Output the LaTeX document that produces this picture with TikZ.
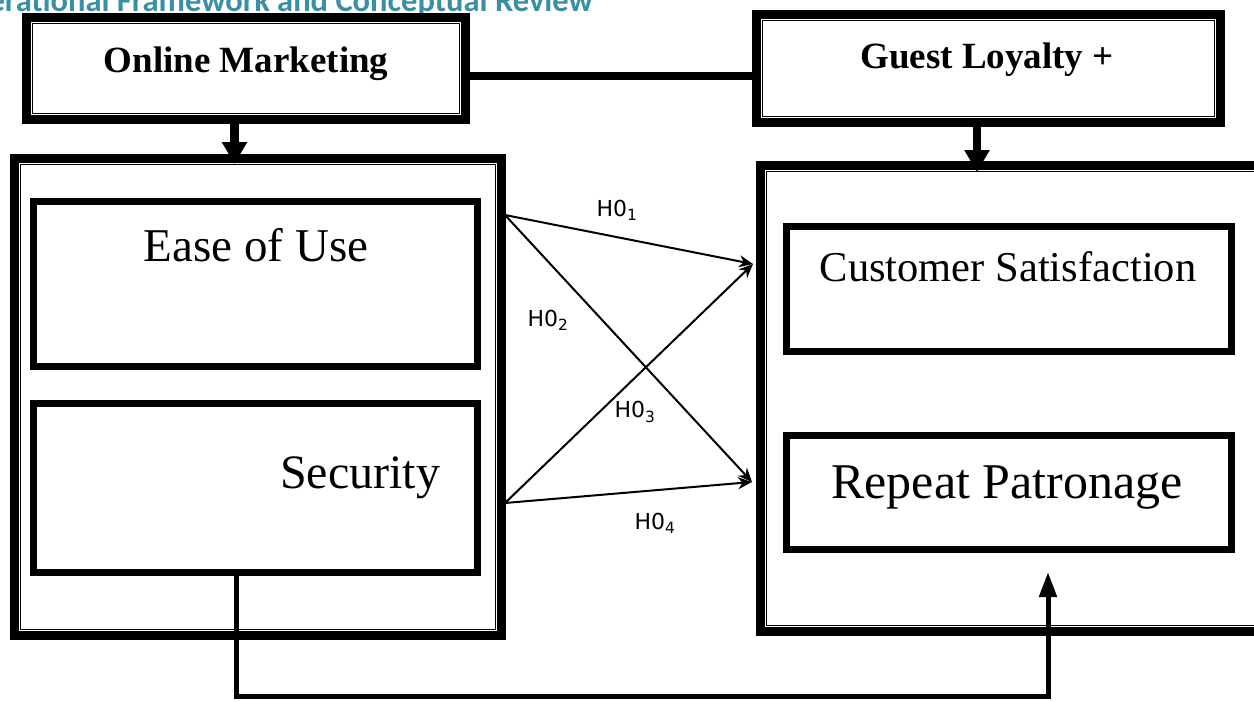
\documentclass[tikz,border=0pt]{standalone}
\usepackage{fontspec}
\setmainfont{Liberation Serif}
\newfontfamily\labfont{DejaVu Sans}
\newfontfamily\titlefont{Carlito}
\usetikzlibrary{arrows.meta}
\definecolor{titleteal}{RGB}{58,143,165}
\newcommand\innerlines[1]{%
  \draw[line width=1.6pt] ([shift={(8,8)}]#1.north west) rectangle ([shift={(-8,-8)}]#1.south east);
  \draw[line width=1pt] ([shift={(10.6,10.6)}]#1.north west) rectangle ([shift={(-10.6,-10.6)}]#1.south east);}
\tikzset{
  tribox/.style={draw, line width=7pt, inner sep=0pt},
  subbox/.style={draw, line width=7pt, inner sep=0pt},
  bigtxt/.style={anchor=base, inner sep=0pt},
  hyp/.style={font=\labfont\fontsize{22}{24}\selectfont, inner sep=0pt},
  hline/.style={line width=2pt, -{Stealth[length=14pt,width=12pt]}},
  fatarrow/.style={line width=8.5pt, -{Triangle[length=22pt,width=24pt]}},
}
\begin{document}
\begin{tikzpicture}[x=1pt,y=-1pt]
\useasboundingbox (0,0) rectangle (1254,702);
\clip (0,0) rectangle (1254,702);
\fill[white] (0,0) rectangle (1254,702);

% title (cut off at the page edge, as in the reference)
\node[anchor=base east, inner sep=0pt, text=titleteal,
      font=\titlefont\bfseries\fontsize{32.5}{33}\selectfont] (title) at (593,11)
      {Operational Framework and Conceptual Review};

% header boxes
\node[tribox, minimum width=441pt, minimum height=104pt] (om) at (246,68.5) {};
\innerlines{om}
\node[bigtxt, font=\bfseries\fontsize{37}{40}\selectfont] (omt) at (246,72) {Online Marketing};

\node[tribox, minimum width=466pt, minimum height=110pt] (gl) at (988.5,68.5) {};
\innerlines{gl}
\node[bigtxt, font=\bfseries\fontsize{37}{40}\selectfont] (glt) at (987,68) {Guest Loyalty +};

% big boxes
\node[tribox, minimum width=489pt, minimum height=479pt] (lb) at (258,397) {};
\innerlines{lb}
\node[tribox, minimum width=512pt, minimum height=468pt] (rb) at (1015.5,398.5) {};
\innerlines{rb}

% sub boxes
\node[subbox, minimum width=444pt, minimum height=165pt] (ease) at (255.5,284) {};
\node[bigtxt, font=\fontsize{47}{50}\selectfont] (easet) at (256,261) {Ease of Use};
\node[subbox, minimum width=444pt, minimum height=169pt] (sec) at (255.5,488) {};
\node[bigtxt, font=\fontsize{48}{50}\selectfont] (sect) at (360,488) {Security};
\node[subbox, minimum width=445pt, minimum height=125pt] (cs) at (1009,289) {};
\node[bigtxt, font=\fontsize{42.5}{45}\selectfont] (cst) at (1008,281) {Customer Satisfaction};
\node[subbox, minimum width=445pt, minimum height=114pt] (rp) at (1009,492.5) {};
\node[bigtxt, font=\fontsize{50}{52}\selectfont] (rpt) at (1007,498) {Repeat Patronage};

% header connectors
\draw[line width=8pt] ([shift={(0,7.5)}]om.east) -- ([shift={(0,7.5)}]gl.west);
\coordinate (a1) at (234.5,164);
\draw[fatarrow] (om.south -| a1) -- (a1);
\coordinate (a2) at (977,172);
\draw[fatarrow] (gl.south -| a2) -- (a2);

% hypothesis arrows
\coordinate (s1) at (505,215);
\coordinate (s2) at (505,503);
\coordinate (e1) at (753,264);
\coordinate (e2) at (752,482);
\draw[hline] (s1) -- (e1);
\draw[hline] (s1) -- (e2);
\draw[hline] (s2) -- (e1);
\draw[hline] (s2) -- (e2);
\node[hyp] (h1) at (617,210) {H0\textsubscript{1}};
\node[hyp] (h2) at (548,320) {H0\textsubscript{2}};
\node[hyp] (h3) at (635,412) {H0\textsubscript{3}};
\node[hyp] (h4) at (655,523) {H0\textsubscript{4}};

% bottom connector
\coordinate (b1) at (236,696);
\coordinate (t1) at (1048,572);
\draw[line width=5pt, -{Triangle[length=25pt,width=17pt]}] (sec.south -| b1) -- (b1) -| (t1);
\end{tikzpicture}
\end{document}
